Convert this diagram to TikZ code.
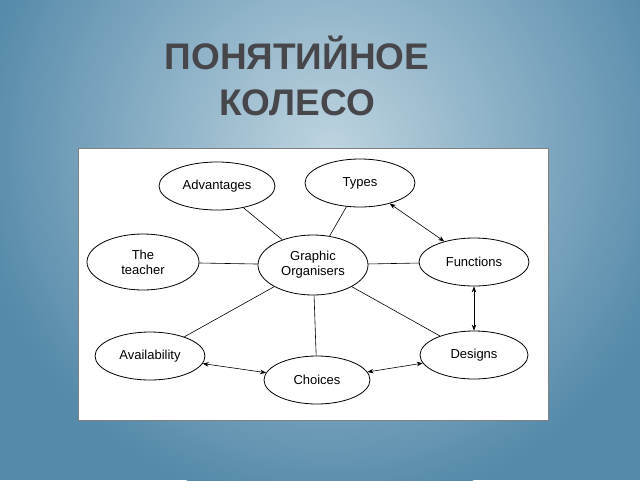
\documentclass[tikz,border=0pt]{standalone}
\usepackage{fontspec}
\setmainfont{Liberation Sans}
\usetikzlibrary{shapes.geometric,arrows.meta}
\definecolor{bgout}{RGB}{85,138,170}
\definecolor{bgin}{RGB}{190,212,224}
\definecolor{ttl}{RGB}{70,70,75}
\begin{document}
\begin{tikzpicture}[x=1pt,y=-1pt,
  el/.style={draw,ellipse,thick,minimum width=110pt,minimum height=48pt,font=\fontsize{13}{15}\selectfont,align=center,fill=white,inner sep=0pt},
  ln/.style={draw,line width=0.6pt},
  bi/.style={ln,{Stealth[length=6pt]}-{Stealth[length=6pt]}}]
\useasboundingbox (0,0) rectangle (640,480);
\fill[bgout] (0,0) rectangle (640,480);
\begin{scope}
\clip (0,0) rectangle (640,480);
\shade[inner color=bgin,outer color=bgout] (330,150) circle (360);
\end{scope}
\node[font=\bfseries\fontsize{37}{46}\selectfont,text=ttl,align=center] (title) at (297,76) {ПОНЯТИЙНОЕ\\КОЛЕСО};
\node[draw=gray,fill=white,minimum width=470pt,minimum height=272pt,anchor=north west,inner sep=0pt] (box) at (78,148) {};
\node[el,minimum width=116pt] (adv) at (217,186) {Advantages};
\node[el] (typ) at (360,183) {Types};
\node[el,minimum width=112pt,minimum height=56pt] (tea) at (143,262) {The\\teacher};
\node[el,minimum height=60pt] (go) at (313,265) {Graphic\\Organisers};
\node[el] (fun) at (474,262) {Functions};
\node[el] (ava) at (150,356) {Availability};
\node[el,minimum width=106pt] (cho) at (317,380) {Choices};
\node[el,minimum width=108pt] (des) at (474,355) {Designs};
\draw[ln] (adv) -- (go);
\draw[ln] (typ) -- (go);
\draw[ln] (tea) -- (go);
\draw[ln] (fun) -- (go);
\draw[ln] (ava) -- (go);
\draw[ln] (cho) -- (go);
\draw[ln] (des) -- (go);
\draw[bi] (typ) -- (fun);
\draw[bi] (fun) -- (des);
\draw[bi] (ava) -- (cho);
\draw[bi] (cho) -- (des);
\end{tikzpicture}
\end{document}
